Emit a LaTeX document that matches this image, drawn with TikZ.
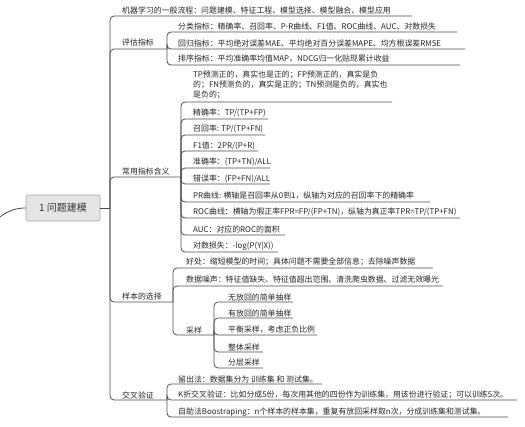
\documentclass[tikz,border=0pt]{standalone}
\usepackage{fontspec}
\newfontfamily\cjk{Noto Sans CJK SC}
\usepackage{tikz}
\usetikzlibrary{positioning}
\tikzset{
	branch/.style={draw=black!70, line width=0.8pt, rounded corners=4pt}, % connector and underline
	topic/.style={anchor=west, inner sep=0pt, align=left, text=black!85,
		font=\cjk\fontsize{7.9pt}{10pt}\selectfont}, % text of a topic
	root/.style={draw=black!35, fill=black!10, rounded corners=2pt, line width=0.6pt,
		minimum width=74pt, minimum height=26pt, text=black!80,
		font=\cjk\fontsize{10pt}{12pt}\selectfont}, % central topic
}

\begin{document}
\begin{tikzpicture}[x=1pt, y=-1pt]
		\useasboundingbox (0,0) rectangle (525,426);
		
		\node[root] (r) at (63,208) {1 问题建模};
		\coordinate (src) at (0,217);
		\draw[branch] (src) .. controls (9,210) and (17,208) .. (r.west);
		\coordinate (j0) at (110,208);
		\draw[branch] (r.east) -- (j0);
		
		% general flow
		\node[topic] (flow) at (122,10) {机器学习的一般流程：问题建模、特征工程、模型选择、模型融合、模型应用};
		\coordinate (flow-e) at (412,16);
		\draw[branch] (j0) |- (flow-e);
		
		% evaluation
		\node[topic] (eval) at (122,42) {评估指标};
		\coordinate (j1) at (167,49);
		\draw[branch] (j0) |- (j1);
		\node[topic] (cls) at (178,26) {分类指标：精确率、召回率、P-R曲线、F1值、ROC曲线、AUC、对数损失};
		\node[topic] (reg) at (178,43) {回归指标：平均绝对误差MAE、平均绝对百分误差MAPE、均方根误差RMSE};
		\node[topic] (rank) at (178,59) {排序指标：平均准确率均值MAP，NDCG归一化贴现累计收益};
		\coordinate (cls-e) at (457,32);
		\coordinate (reg-e) at (465,49);
		\coordinate (rank-e) at (460,65);
		\draw[branch] (j1) |- (cls-e);
		\draw[branch] (j1) |- (reg-e);
		\draw[branch] (j1) |- (rank-e);
		
		% metrics
		\node[topic] (metric) at (122,171) {常用指标含义};
		\coordinate (j2) at (181,177);
		\draw[branch] (j0) |- (j2);
		\node[topic] (conf) at (193,85) {TP预测正的，真实也是正的；FP预测正的，真实是负\\的；FN预测负的，真实是正的；TN预测是负的，真实也\\是负的；};
		\node[topic] (prec) at (193,113) {精确率：TP/(TP+FP)};
		\node[topic] (rec) at (193,129) {召回率: TP/(TP+FN)};
		\node[topic] (fone) at (193,146) {F1值：2PR/(P+R)};
		\node[topic] (acc) at (193,162) {准确率：(TP+TN)/ALL};
		\node[topic] (err) at (193,179) {错误率：(FP+FN)/ALL};
		\node[topic] (pr) at (193,196) {PR曲线: 横轴是召回率从0到1，纵轴为对应的召回率下的精确率};
		\node[topic] (roc) at (193,212) {ROC曲线：横轴为假正率FPR=FP/(FP+TN)，纵轴为真正率TPR=TP/(TP+FN)};
		\node[topic] (auc) at (193,229) {AUC：对应的ROC的面积};
		\node[topic] (logl) at (193,246) {对数损失：-log(P(Y|X))};
		\coordinate (conf-e) at (392,102);
		\coordinate (prec-e) at (268,119);
		\coordinate (rec-e) at (265,135);
		\coordinate (fone-e) at (258,151);
		\coordinate (acc-e) at (270,168);
		\coordinate (err-e) at (270,184);
		\coordinate (pr-e) at (430,202);
		\coordinate (roc-e) at (460,218);
		\coordinate (auc-e) at (285,235);
		\coordinate (logl-e) at (278,252);
		\draw[branch] (j2) |- (conf-e);
		\draw[branch] (j2) |- (prec-e);
		\draw[branch] (j2) |- (rec-e);
		\draw[branch] (j2) |- (fone-e);
		\draw[branch] (j2) |- (acc-e);
		\draw[branch] (j2) |- (err-e);
		\draw[branch] (j2) |- (pr-e);
		\draw[branch] (j2) |- (roc-e);
		\draw[branch] (j2) |- (auc-e);
		\draw[branch] (j2) |- (logl-e);
		
		% sample selection
		\node[topic] (sample) at (122,296) {样本的选择};
		\coordinate (j3) at (173,302);
		\draw[branch] (j0) |- (j3);
		\node[topic] (gain) at (186,262) {好处：缩短模型的时间；具体问题不需要全部信息；去除噪声数据};
		\node[topic] (noise) at (186,280) {数据噪声：特征值缺失、特征值超出范围、清洗爬虫数据、过滤无效曝光};
		\node[topic] (samp) at (186,330) {采样};
		\coordinate (gain-e) at (433,268);
		\coordinate (noise-e) at (443,286);
		\coordinate (j4) at (214,335);
		\draw[branch] (j3) |- (gain-e);
		\draw[branch] (j3) |- (noise-e);
		\draw[branch] (j3) |- (j4);
		\node[topic] (sa) at (228,297) {无放回的简单抽样};
		\node[topic] (sb) at (228,313) {有放回的简单抽样};
		\node[topic] (sc) at (228,330) {平衡采样，考虑正负比例};
		\node[topic] (sd) at (228,347) {整体采样};
		\node[topic] (se) at (228,363) {分层采样};
		\coordinate (sa-e) at (293,302);
		\coordinate (sb-e) at (293,318);
		\coordinate (sc-e) at (317,335);
		\coordinate (sd-e) at (263,352);
		\coordinate (se-e) at (263,368);
		\draw[branch] (j4) |- (sa-e);
		\draw[branch] (j4) |- (sb-e);
		\draw[branch] (j4) |- (sc-e);
		\draw[branch] (j4) |- (sd-e);
		\draw[branch] (j4) |- (se-e);
		
		% cross validation
		\node[topic] (cv) at (122,395) {交叉验证};
		\coordinate (j5) at (167,400);
		\draw[branch] (j0) |- (j5);
		\node[topic] (hold) at (178,379) {留出法：数据集分为 训练集 和 测试集。};
		\node[topic] (kfold) at (178,395) {K折交叉验证：比如分成5份，每次用其他的四份作为训练集，用该份进行验证；可以训练5次。};
		\node[topic] (boot) at (178,412) {自助法Boostraping：n个样本的样本集，重复有放回采样取n次，分成训练集和测试集。};
		\coordinate (hold-e) at (322,384);
		\coordinate (kfold-e) at (517,400);
		\coordinate (boot-e) at (508,417);
		\draw[branch] (j5) |- (hold-e);
		\draw[branch] (j5) |- (kfold-e);
		\draw[branch] (j5) |- (boot-e);
\end{tikzpicture}
\end{document}
